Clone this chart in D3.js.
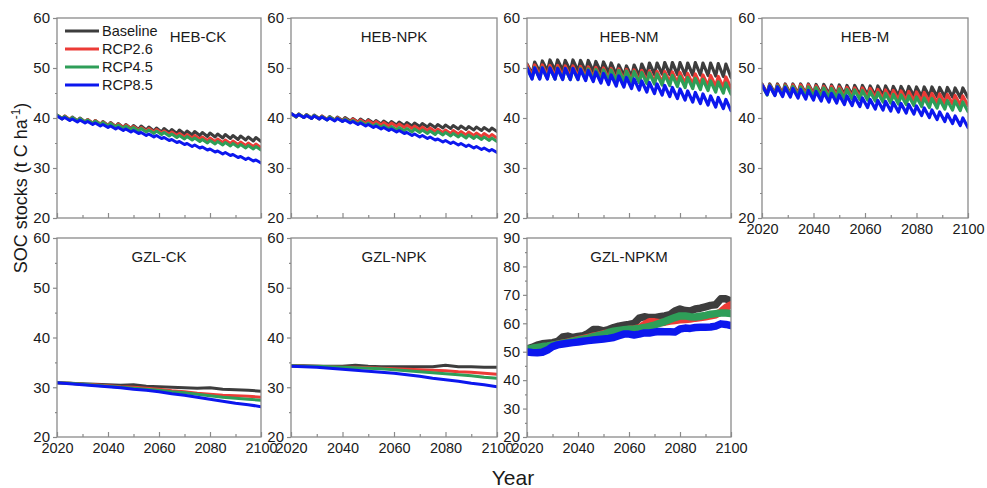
<!DOCTYPE html>
<html>
<head>
<meta charset="utf-8">
<script src="https://cdn.jsdelivr.net/npm/d3@7"></script>
<style>
body{margin:0;background:#fff;}
svg text{font-family:Arial,"Liberation Sans",sans-serif;fill:#1a1a1a;}
</style>
</head>
<body>
<svg id="chart" width="987" height="488"></svg>
<script>
(function(){

// ---- data ----
const SERIES = ['Baseline','RCP2.6','RCP4.5','RCP8.5'];
const COLORS = ['#3d3d3d','#ec3b36','#2e9e58','#0c17ee'];

// sawtooth years: peak then trough
const YEARS_PK = [2020,2023,2026,2029,2032,2035,2038,2041,2044,2047,2050,2053,2056,2059,2062,2065,2068,2071,2074,2077,2080,2083,2086,2089,2092,2095,2098];
const YEARS_TR = [2022,2025,2028,2031,2034,2037,2040,2043,2046,2049,2052,2055,2058,2061,2064,2067,2070,2073,2076,2079,2082,2085,2088,2091,2094,2097,2100];
const YEARS_5 = [2020,2025,2030,2035,2040,2045,2050,2055,2060,2065,2070,2075,2080,2085,2090,2095,2100];
const YEARS_2 = [2020,2022,2024,2026,2028,2030,2032,2034,2036,2038,2040,2042,2044,2046,2048,2050,2052,2054,2056,2058,2060,2062,2064,2066,2068,2070,2072,2074,2076,2078,2080,2082,2084,2086,2088,2090,2092,2094,2096,2098,2100];

const X_TICKS = [2020,2040,2060,2080,2100];

// HEB-CK
const ckBasePk = [40.6,40.4,40.2,40.0,39.7,39.5,39.3,39.1,38.9,38.7,38.5,38.4,38.2,38.0,37.9,37.7,37.6,37.4,37.3,37.1,37.0,36.8,36.7,36.5,36.4,36.2,36.1];
const ckBaseTr = [39.8,39.6,39.4,39.2,38.9,38.7,38.5,38.3,38.1,37.9,37.7,37.6,37.4,37.2,37.1,36.9,36.8,36.6,36.5,36.3,36.2,36.0,35.9,35.7,35.6,35.4,35.3];
const ck26Pk = [40.6,40.4,40.1,39.9,39.7,39.5,39.2,39.0,38.8,38.6,38.3,38.1,37.9,37.7,37.4,37.2,36.9,36.7,36.5,36.2,36.0,35.8,35.6,35.4,35.2,35.0,34.8];
const ck26Tr = [39.9,39.7,39.4,39.2,39.0,38.8,38.5,38.3,38.1,37.9,37.6,37.4,37.2,37.0,36.7,36.5,36.2,36.0,35.8,35.5,35.3,35.1,34.9,34.7,34.5,34.3,34.1];
const ck45Pk = [40.6,40.3,40.1,39.9,39.6,39.4,39.1,38.9,38.6,38.4,38.1,37.9,37.6,37.4,37.1,36.8,36.5,36.3,36.0,35.7,35.5,35.3,35.1,34.9,34.7,34.5,34.3];
const ck45Tr = [39.9,39.6,39.4,39.2,38.9,38.7,38.4,38.2,37.9,37.7,37.4,37.2,36.9,36.7,36.4,36.1,35.8,35.6,35.3,35.0,34.8,34.6,34.4,34.2,34.0,33.8,33.6];
const ck85Pk = [40.4,40.1,39.8,39.6,39.3,39.0,38.7,38.4,38.1,37.8,37.5,37.1,36.8,36.5,36.1,35.7,35.3,34.9,34.6,34.2,33.8,33.4,33.1,32.7,32.3,32.0,31.6];
const ck85Tr = [39.8,39.5,39.2,39.0,38.7,38.4,38.1,37.8,37.5,37.2,36.9,36.5,36.2,35.9,35.5,35.1,34.7,34.3,34.0,33.6,33.2,32.8,32.5,32.1,31.7,31.4,31.0];

// HEB-NPK
const npkBasePk = [40.9,40.8,40.7,40.6,40.4,40.3,40.2,40.1,39.9,39.8,39.7,39.5,39.4,39.3,39.2,39.1,39.0,38.9,38.8,38.7,38.6,38.5,38.4,38.3,38.2,38.1,38.0];
const npkBaseTr = [40.2,40.1,40.0,39.9,39.7,39.6,39.5,39.4,39.2,39.1,39.0,38.8,38.7,38.6,38.5,38.4,38.3,38.2,38.1,38.0,37.9,37.8,37.7,37.6,37.5,37.4,37.3];
const npk26Pk = [40.9,40.8,40.6,40.5,40.4,40.2,40.1,39.9,39.8,39.6,39.5,39.3,39.1,39.0,38.8,38.6,38.4,38.2,38.0,37.8,37.6,37.5,37.3,37.2,37.0,36.9,36.7];
const npk26Tr = [40.2,40.1,39.9,39.8,39.7,39.5,39.4,39.2,39.1,38.9,38.8,38.6,38.4,38.3,38.1,37.9,37.7,37.5,37.3,37.1,36.9,36.8,36.6,36.5,36.3,36.2,36.0];
const npk45Pk = [40.9,40.8,40.6,40.5,40.3,40.2,40.0,39.8,39.5,39.3,39.0,38.8,38.5,38.3,38.1,37.9,37.8,37.6,37.4,37.3,37.1,36.9,36.7,36.6,36.4,36.2,36.0];
const npk45Tr = [40.2,40.1,39.9,39.8,39.6,39.5,39.3,39.1,38.8,38.6,38.3,38.1,37.8,37.6,37.4,37.2,37.1,36.9,36.7,36.6,36.4,36.2,36.0,35.9,35.7,35.5,35.3];
const npk85Pk = [40.9,40.7,40.5,40.4,40.2,40.0,39.9,39.6,39.3,39.0,38.7,38.4,38.1,37.8,37.5,37.1,36.8,36.5,36.2,35.8,35.5,35.2,34.9,34.6,34.3,34.0,33.7];
const npk85Tr = [40.3,40.1,39.9,39.8,39.6,39.4,39.3,39.0,38.7,38.4,38.1,37.8,37.5,37.2,36.9,36.5,36.2,35.9,35.6,35.2,34.9,34.6,34.3,34.0,33.7,33.4,33.1];

// HEB-NM
const nmBasePk = [50.8,51.2,51.4,51.6,51.6,51.5,51.6,51.5,51.5,51.3,51.2,51.0,50.6,50.4,50.6,50.8,51.0,51.0,51.1,51.1,51.1,51.0,51.1,51.0,51.0,50.9,50.8];
const nmBaseTr = [48.8,49.2,49.4,49.5,49.5,49.4,49.4,49.3,49.3,49.1,49.0,48.7,48.5,48.3,48.4,48.6,48.7,48.8,48.7,48.7,48.6,48.6,48.6,48.5,48.4,48.3,48.1];
const nm26Pk = [50.6,50.6,50.6,50.5,50.5,50.4,50.4,50.3,50.2,50.1,50.0,49.9,49.8,49.7,49.6,49.5,49.4,49.3,49.3,49.2,49.1,48.9,48.8,48.6,48.5,48.3,48.2];
const nm26Tr = [48.4,48.4,48.4,48.3,48.3,48.2,48.2,48.1,48.0,47.9,47.8,47.7,47.6,47.5,47.4,47.3,47.2,47.1,47.1,47.0,46.9,46.7,46.6,46.4,46.3,46.1,46.0];
const nm45Pk = [50.1,50.1,50.1,50.0,50.0,49.9,49.9,49.9,49.8,49.7,49.6,49.6,49.5,49.4,49.3,49.1,49.0,48.8,48.7,48.5,48.3,48.1,47.9,47.7,47.4,47.2,47.0];
const nm45Tr = [47.9,47.9,47.9,47.8,47.8,47.7,47.7,47.7,47.6,47.5,47.4,47.4,47.3,47.2,47.1,46.9,46.8,46.6,46.5,46.3,46.1,45.9,45.7,45.5,45.2,45.0,44.8];
const nm85Pk = [50.0,50.0,50.0,50.0,49.9,49.9,49.9,49.7,49.5,49.2,48.9,48.6,48.4,48.1,47.8,47.4,47.1,46.8,46.5,46.1,45.8,45.4,45.1,44.8,44.4,44.1,43.7];
const nm85Tr = [47.8,47.8,47.8,47.8,47.7,47.7,47.7,47.5,47.3,47.0,46.7,46.4,46.2,45.9,45.6,45.2,44.9,44.6,44.3,43.9,43.6,43.2,42.9,42.6,42.2,41.9,41.5];

// HEB-M
const mBasePk = [46.8,46.8,46.8,46.8,46.8,46.8,46.8,46.7,46.7,46.6,46.6,46.5,46.5,46.5,46.4,46.4,46.4,46.3,46.3,46.3,46.2,46.2,46.2,46.1,46.1,46.0,46.0];
const mBaseTr = [44.9,44.9,44.9,44.9,44.9,44.9,44.9,44.8,44.8,44.7,44.7,44.6,44.6,44.6,44.5,44.5,44.5,44.4,44.4,44.4,44.3,44.3,44.3,44.2,44.2,44.1,44.1];
const m26Pk = [46.7,46.6,46.6,46.6,46.6,46.6,46.6,46.4,46.3,46.3,46.2,46.1,46.0,46.0,45.9,45.7,45.6,45.5,45.4,45.3,45.2,45.1,44.9,44.8,44.7,44.5,44.4];
const m26Tr = [44.8,44.7,44.7,44.7,44.7,44.7,44.7,44.5,44.4,44.4,44.3,44.2,44.1,44.1,44.0,43.8,43.7,43.6,43.5,43.4,43.3,43.2,43.0,42.9,42.8,42.6,42.5];
const m45Pk = [46.5,46.5,46.4,46.4,46.3,46.2,46.2,46.1,46.0,45.9,45.8,45.7,45.6,45.5,45.3,45.1,44.9,44.7,44.6,44.4,44.2,44.0,43.9,43.7,43.5,43.4,43.2];
const m45Tr = [44.6,44.6,44.5,44.5,44.4,44.3,44.3,44.2,44.1,44.0,43.9,43.8,43.7,43.6,43.4,43.2,43.0,42.8,42.7,42.5,42.3,42.1,42.0,41.8,41.6,41.5,41.3];
const m85Pk = [46.6,46.4,46.2,46.1,45.9,45.7,45.5,45.3,45.1,44.9,44.6,44.4,44.2,44.0,43.7,43.5,43.3,43.1,42.9,42.7,42.4,42.0,41.6,41.2,40.8,40.4,40.0];
const m85Tr = [44.7,44.5,44.3,44.2,44.0,43.8,43.6,43.4,43.2,43.0,42.7,42.5,42.3,42.1,41.8,41.6,41.4,41.2,41.0,40.8,40.5,40.1,39.7,39.3,38.9,38.5,38.1];

// GZL-CK (5-yearly)
const gckBase = [30.9,30.8,30.7,30.6,30.5,30.4,30.5,30.2,30.1,30.0,29.9,29.8,29.9,29.6,29.5,29.4,29.2];
const gck26   = [30.9,30.8,30.6,30.5,30.3,30.1,30.0,29.8,29.6,29.3,29.1,28.8,28.6,28.4,28.3,28.2,28.0];
const gck45   = [30.9,30.8,30.6,30.4,30.2,30.0,29.8,29.6,29.4,29.1,28.9,28.6,28.3,28.0,27.8,27.6,27.4];
const gck85   = [30.9,30.7,30.5,30.3,30.1,29.9,29.6,29.4,29.1,28.7,28.4,28.0,27.6,27.2,26.8,26.5,26.1];

// GZL-NPK (5-yearly)
const gnpkBase = [34.3,34.3,34.2,34.2,34.2,34.4,34.2,34.1,34.1,34.1,34.1,34.1,34.4,34.1,34.1,34.0,34.0];
const gnpk26   = [34.3,34.2,34.2,34.1,34.0,34.0,33.9,33.8,33.7,33.6,33.5,33.4,33.3,33.1,33.0,32.8,32.6];
const gnpk45   = [34.3,34.2,34.2,34.1,34.0,33.9,33.8,33.7,33.5,33.3,33.1,32.9,32.7,32.5,32.3,32.0,31.8];
const gnpk85   = [34.2,34.1,34.0,33.8,33.6,33.4,33.2,33.0,32.8,32.5,32.2,31.8,31.5,31.2,30.8,30.5,30.1];

// GZL-NPKM (2-yearly)
const gnpkmBase = [51.0,51.5,52.3,52.8,53.0,53.2,53.6,55.2,55.5,55.0,55.4,55.6,56.5,57.8,57.8,57.3,57.8,58.5,59.0,59.3,59.6,60.0,61.8,62.3,62.0,62.0,62.3,62.6,63.0,64.3,65.0,64.5,64.3,65.0,65.3,65.8,66.3,66.5,68.6,68.6,67.8];
const gnpkm26   = [50.6,51.0,51.4,51.5,51.8,52.2,52.6,53.0,53.4,53.8,54.2,54.6,55.0,55.5,55.8,56.3,56.6,56.9,57.2,57.5,57.8,58.0,58.4,59.5,60.5,60.5,60.2,60.4,60.8,61.0,61.2,61.3,61.5,61.8,62.0,62.3,62.6,63.0,64.0,65.5,66.5];
const gnpkm45   = [50.8,51.2,51.5,51.8,52.0,52.3,52.6,53.0,53.3,53.7,54.1,54.4,54.8,55.3,55.7,56.1,56.8,57.2,57.5,57.7,57.9,58.0,58.2,58.5,58.9,59.4,60.0,60.6,61.3,62.0,62.6,62.6,62.3,62.2,62.5,62.8,63.2,63.4,63.6,63.6,63.4];
const gnpkm85   = [49.9,49.7,49.6,49.8,50.6,51.8,52.4,52.7,53.0,53.2,53.4,53.7,53.9,54.1,54.3,54.5,54.7,55.0,55.6,56.2,56.2,55.9,56.2,56.6,56.6,56.9,57.1,57.0,57.0,56.9,58.0,58.3,58.2,58.5,58.6,58.6,58.7,59.0,59.8,59.6,59.2];

// ---- helpers ----
function tooth(pk, tr){
  const pts = [];
  pk.forEach((v,i) => { pts.push([YEARS_PK[i], v]); pts.push([YEARS_TR[i], tr[i]]); });
  return pts;
}
function pair(years, vals){ return vals.map((v,i) => [years[i], v]); }

const COL_L = [57, 291, 527, 762];
const COL_R = [261, 497, 731, 968];
const ROW_T = [18, 238];
const ROW_B = [218, 437];

const panels = [
  {name:'HEB-CK', col:0, row:0, yMax:60, xText:false, width:3, titleX:198,
   lines:[tooth(ckBasePk,ckBaseTr), tooth(ck26Pk,ck26Tr), tooth(ck45Pk,ck45Tr), tooth(ck85Pk,ck85Tr)]},
  {name:'HEB-NPK', col:1, row:0, yMax:60, xText:false, width:3,
   lines:[tooth(npkBasePk,npkBaseTr), tooth(npk26Pk,npk26Tr), tooth(npk45Pk,npk45Tr), tooth(npk85Pk,npk85Tr)]},
  {name:'HEB-NM', col:2, row:0, yMax:60, xText:false, width:3.2,
   lines:[tooth(nmBasePk,nmBaseTr), tooth(nm26Pk,nm26Tr), tooth(nm45Pk,nm45Tr), tooth(nm85Pk,nm85Tr)]},
  {name:'HEB-M', col:3, row:0, yMax:60, xText:true, width:3.2,
   lines:[tooth(mBasePk,mBaseTr), tooth(m26Pk,m26Tr), tooth(m45Pk,m45Tr), tooth(m85Pk,m85Tr)]},
  {name:'GZL-CK', col:0, row:1, yMax:60, xText:true, width:3,
   lines:[pair(YEARS_5,gckBase), pair(YEARS_5,gck26), pair(YEARS_5,gck45), pair(YEARS_5,gck85)]},
  {name:'GZL-NPK', col:1, row:1, yMax:60, xText:true, width:3,
   lines:[pair(YEARS_5,gnpkBase), pair(YEARS_5,gnpk26), pair(YEARS_5,gnpk45), pair(YEARS_5,gnpk85)]},
  {name:'GZL-NPKM', col:2, row:1, yMax:90, xText:true, width:7.5,
   lines:[pair(YEARS_2,gnpkmBase), pair(YEARS_2,gnpkm26), pair(YEARS_2,gnpkm45), pair(YEARS_2,gnpkm85)]}
];

const svg = d3.select('#chart');
const AXIS = '#8a8a8a';

panels.forEach((p, pi) => {
  const x0 = COL_L[p.col], x1 = COL_R[p.col];
  const y0 = ROW_T[p.row], y1 = ROW_B[p.row];
  const x = d3.scaleLinear().domain([2020, 2100]).range([x0, x1]);
  const y = d3.scaleLinear().domain([20, p.yMax]).range([y1, y0]);
  const g = svg.append('g');

  g.append('clipPath').attr('id', 'clip' + pi)
    .append('rect').attr('x', x0).attr('y', y0).attr('width', x1 - x0).attr('height', y1 - y0);

  const line = d3.line().x(d => x(d[0])).y(d => y(d[1]));
  const lg = g.append('g').attr('clip-path', `url(#clip${pi})`);
  p.lines.forEach((pts, si) => {
    lg.append('path').datum(pts)
      .attr('d', line)
      .attr('fill', 'none')
      .attr('stroke', COLORS[si])
      .attr('stroke-width', p.width)
      .attr('stroke-linejoin', 'round')
      .attr('stroke-linecap', 'round');
  });

  // y axis: majors every 10, minors at 5
  const yMaj = d3.range(20, p.yMax + 1, 10);
  const yMin = d3.range(25, p.yMax, 10);
  const ya = g.append('g').attr('transform', `translate(${x0},0)`)
    .call(d3.axisLeft(y).tickValues(yMaj).tickSize(4).tickPadding(3).tickFormat(d3.format('d')));
  const ym = g.append('g').attr('transform', `translate(${x0},0)`)
    .call(d3.axisLeft(y).tickValues(yMin).tickSize(2).tickFormat(''));

  // x axis: ticks point inward
  const xa = g.append('g').attr('transform', `translate(0,${y1})`)
    .call(d3.axisBottom(x).tickValues(X_TICKS).tickSize(-5).tickPadding(6)
      .tickFormat(p.xText ? d3.format('d') : ''));
  const xm = g.append('g').attr('transform', `translate(0,${y1})`)
    .call(d3.axisBottom(x).tickValues([2030, 2050, 2070, 2090]).tickSize(-3).tickFormat(''));

  [ya, ym, xa, xm].forEach(a => {
    a.select('.domain').remove();
    a.selectAll('line').attr('stroke', AXIS).attr('stroke-width', 1.2);
    a.selectAll('text').attr('font-size', 15).attr('fill', '#1a1a1a')
      .style('font-family', 'Arial, "Liberation Sans", sans-serif');
  });
  xa.selectAll('text').attr('font-size', 14.5);

  g.append('rect').attr('x', x0).attr('y', y0).attr('width', x1 - x0).attr('height', y1 - y0)
    .attr('fill', 'none').attr('stroke', AXIS).attr('stroke-width', 1.3);

  g.append('text')
    .attr('x', p.titleX || (x0 + x1) / 2)
    .attr('y', y0 + 24)
    .attr('text-anchor', 'middle')
    .attr('font-size', 15)
    .text(p.name);
});

// legend in first panel
const leg = svg.append('g');
SERIES.forEach((s, i) => {
  const yy = 31 + i * 18;
  leg.append('line').attr('x1', 65).attr('x2', 99).attr('y1', yy).attr('y2', yy)
    .attr('stroke', COLORS[i]).attr('stroke-width', 3);
  leg.append('text').attr('x', 102).attr('y', yy + 5).attr('font-size', 14.5).text(s);
});

// axis titles
const yt = svg.append('text')
  .attr('transform', 'translate(27,188) rotate(-90)')
  .attr('text-anchor', 'middle')
  .attr('font-size', 18);
yt.append('tspan').text('SOC stocks (t C ha');
yt.append('tspan').attr('font-size', 12).attr('dy', -7).text('-1');
yt.append('tspan').attr('dy', 7).text(')');

svg.append('text')
  .attr('x', 513).attr('y', 485)
  .attr('text-anchor', 'middle')
  .attr('font-size', 21)
  .text('Year');

})();
</script>
</body>
</html>
